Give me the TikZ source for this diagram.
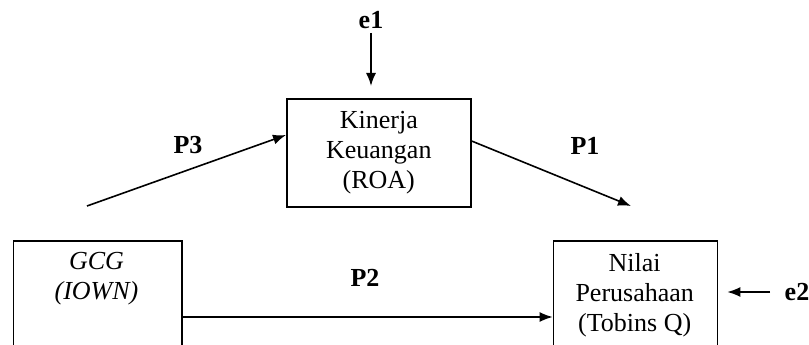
\documentclass[tikz,border=0pt]{standalone}
\usepackage{fontspec}
\setmainfont{Liberation Serif}
\usetikzlibrary{arrows.meta,calc}
\begin{document}
\begin{tikzpicture}[x=1pt,y=1pt,
  font=\fontsize{26}{30}\selectfont,
  box/.style={draw, line width=1.6pt, inner sep=0pt},
  arr/.style={line width=1.6pt, -{Latex[length=13pt,width=10pt]}},
  lbl/.style={font=\fontsize{26}{30}\selectfont\bfseries, inner sep=0pt}]
\useasboundingbox (0,0) rectangle (809,-345);
\clip (0,0) rectangle (809,-345);
% boxes
\node[box, anchor=north west, minimum width=168.5, minimum height=130] (gcg) at (12.5,-240) {};
\node[box, anchor=north west, minimum width=164, minimum height=130] (nilai) at (552.7,-240) {};
\node[box, anchor=north west, minimum width=184, minimum height=108, align=center] (roa) at (286,-98) {Kinerja\\Keuangan\\(ROA)};
% box texts
\node[align=center, inner sep=0pt] (gcgtxt) at (96.5,-279) {\itshape GCG\\\itshape (IOWN)};
\node[align=center, inner sep=0pt] (nilaitxt) at (634.7,-295) {Nilai\\Perusahaan\\(Tobins Q)};
% labels
\node[lbl] (e1) at (371,-20) {e1};
\node[lbl] (e2) at (797,-292) {e2};
\node[lbl] (p3) at (188,-145) {P3};
\node[lbl] (p1) at (585,-146) {P1};
\node[lbl] (p2) at (365,-278) {P2};
% free ends
\coordinate (e1end) at (371,-86);
\coordinate (p3start) at (87,-206);
\coordinate (p1end) at (631,-206);
\coordinate (e2start) at (770,-292);
% connectors
\draw[arr] ([yshift=-4pt]e1.south) -- (e1end);
\draw[arr] (p3start) -- ($(roa.north west)+(0,-37)$);
\draw[arr] ($(roa.north east)+(0,-43)$) -- (p1end);
\draw[arr] ($(gcg.north east)+(0,-77)$) -- ($(nilai.north west)+(0,-77)$);
\draw[arr] (e2start) -- ($(nilai.north east)+(9,-52)$);
\end{tikzpicture}
\end{document}
